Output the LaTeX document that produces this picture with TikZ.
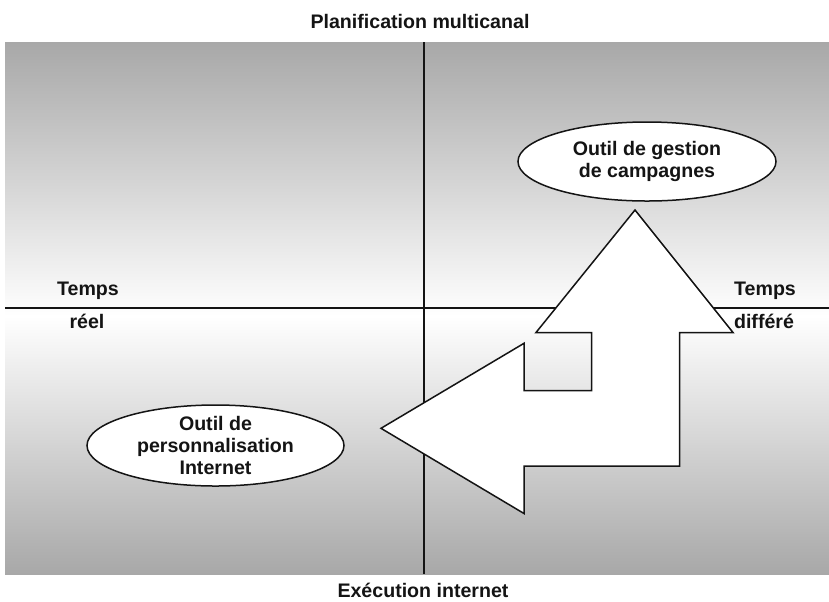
\documentclass[tikz,border=0pt]{standalone}
\usepackage{fontspec}
\setmainfont{Liberation Sans}
\usetikzlibrary{shapes.geometric}
\definecolor{ink}{RGB}{20,20,20}
\definecolor{panel}{RGB}{168,168,168}
\tikzset{
  lbl/.style={font=\fontsize{9.8}{10.8}\selectfont\bfseries,text=ink,inner sep=0pt},
  axis/.style={draw=ink,line width=1pt},
  tool/.style={ellipse,draw=ink,fill=white,line width=0.75pt,inner sep=0pt},
  flow/.style={draw=ink,fill=white,line width=0.75pt,line join=miter},
}

\begin{document}
\begin{tikzpicture}[x=0.5pt,y=-0.5pt]
\useasboundingbox (0,0) rectangle (829,601);
% shaded field, lightest along the time axis
\shade[top color=panel,bottom color=white] (5,42) rectangle (829,316);
\shade[top color=white,bottom color=panel] (5,316) rectangle (829,574);
% axes
\coordinate (n) at (424,42);
\coordinate (s) at (424,574);
\coordinate (w) at (5,308);
\coordinate (e) at (829,308);
\draw[axis] (n) -- (s);
\draw[axis] (w) -- (e);
% axis labels
\node[lbl,anchor=base] (plan) at (420,28) {Planification multicanal};
\node[lbl,anchor=base] (exec) at (423,597) {Exécution internet};
\node[lbl,anchor=base] (tl) at (88,295) {Temps};
\node[lbl,anchor=base] (reel) at (87,328) {réel};
\node[lbl,anchor=base] (tr) at (765,295) {Temps};
\node[lbl,anchor=base] (diff) at (764,328) {différé};
% the bent double arrow
\draw[flow] (635,210) -- (733,332.5) -- (679.5,332.5) -- (679.5,466)
  -- (524,466) -- (524,513.5) -- (381,428.3) -- (524,343.3)
  -- (524,390.7) -- (591.7,390.7) -- (591.7,332.5) -- (536,332.5) -- cycle;
% tools
\node[tool,minimum width=129pt,minimum height=39.5pt] (gestion) at (647,161.5) {};
\node[lbl,align=center] at (gestion) {Outil de gestion\\de campagnes};
\node[tool,minimum width=128.5pt,minimum height=40.5pt] (perso) at (215.5,445.5) {};
\node[lbl,align=center] at (perso) {Outil de\\personnalisation\\Internet};
\end{tikzpicture}
\end{document}
